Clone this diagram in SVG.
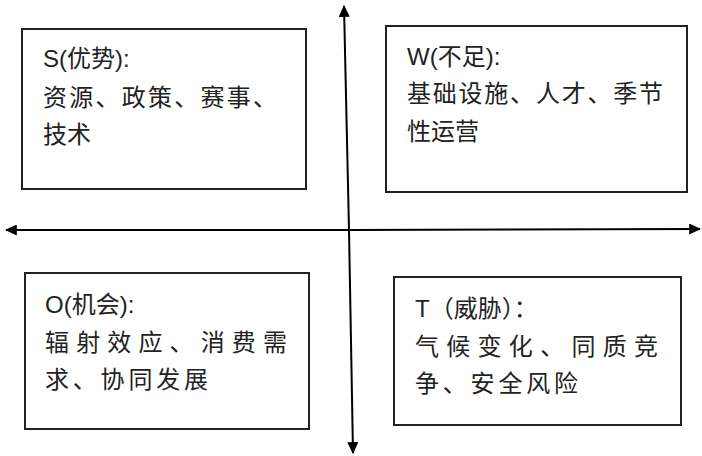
<svg xmlns="http://www.w3.org/2000/svg" width="702" height="456" viewBox="0 0 702 456">
<style>
.box{fill:#fff;stroke:#222;stroke-width:2}
.ax{stroke:#000;stroke-width:2;fill:none}
text{font-family:"Liberation Sans","Noto Sans CJK SC",sans-serif;font-size:24px;fill:#222}
.cn{font-family:"Noto Sans CJK SC",sans-serif}
</style>
<defs>
<marker id="ah" viewBox="0 0 10 10" refX="9" refY="5" markerWidth="12" markerHeight="11" markerUnits="userSpaceOnUse" orient="auto" preserveAspectRatio="none">
<path d="M0,0 L10,5 L0,10 z" fill="#000"/>
</marker>
</defs>
<rect width="702" height="456" fill="#fff"/>
<g id="connectors">
<line class="ax" x1="349" y1="230" x2="344" y2="6" marker-end="url(#ah)"/>
<line class="ax" x1="349" y1="230" x2="353" y2="453" marker-end="url(#ah)"/>
<line class="ax" x1="349" y1="230" x2="6" y2="230" marker-end="url(#ah)"/>
<line class="ax" x1="349" y1="230" x2="700" y2="229" marker-end="url(#ah)"/>
</g>
<g id="S">
<rect class="box" x="22" y="29" width="284" height="160"/>
<text x="43" y="67">S(优势):</text>
<text class="cn" x="43" y="106" textLength="234" lengthAdjust="spacing">资源、政策、赛事、</text>
<text class="cn" x="43" y="143">技术</text>
</g>
<g id="W">
<rect class="box" x="386" y="26" width="301" height="166"/>
<text x="407" y="65">W(不足):</text>
<text class="cn" x="407" y="102" textLength="256" lengthAdjust="spacing">基础设施、人才、季节</text>
<text class="cn" x="407" y="140">性运营</text>
</g>
<g id="O">
<rect class="box" x="25" y="273" width="284" height="156"/>
<text x="45" y="313">O(机会):</text>
<text class="cn" x="45" y="351" textLength="242" lengthAdjust="spacing">辐射效应、消费需</text>
<text class="cn" x="45" y="388" textLength="163" lengthAdjust="spacing">求、协同发展</text>
</g>
<g id="T">
<rect class="box" x="394" y="277" width="287" height="148"/>
<text x="415" y="317">T（威胁）：</text>
<text class="cn" x="415" y="355" textLength="243" lengthAdjust="spacing">气候变化、同质竞</text>
<text class="cn" x="415" y="392" textLength="163" lengthAdjust="spacing">争、安全风险</text>
</g>
</svg>
